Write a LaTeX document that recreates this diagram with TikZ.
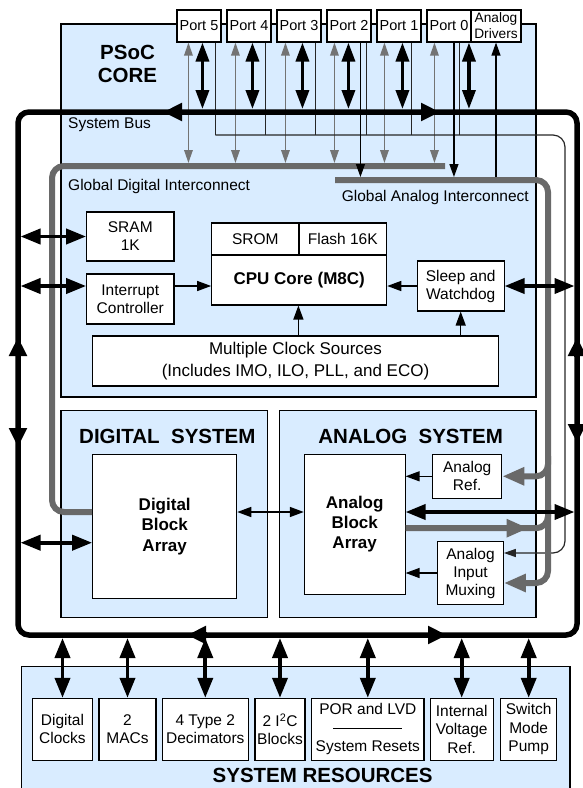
\documentclass[tikz,border=0pt]{standalone}
\usepackage{fontspec}
\setmainfont{Liberation Sans}
\usetikzlibrary{arrows.meta}

\definecolor{psocblue}{RGB}{217,236,255}
\definecolor{icgray}{RGB}{105,105,105}
\definecolor{pingray}{RGB}{115,115,115}
\newcommand{\setsz}[2]{\fontsize{#1}{#2}\selectfont}

\begin{document}
\begin{tikzpicture}[x=1pt,y=-1pt,
  region/.style={draw,line width=1.3pt,fill=psocblue,inner sep=0pt},
  box/.style={draw,line width=1.1pt,fill=white,inner sep=0pt,align=center,font=\setsz{15.5}{18}},
  port/.style={box,minimum width=44pt,minimum height=32pt,font=\setsz{14.5}{16}},
  res/.style={box,minimum height=61.7pt,font=\setsz{15.5}{18.5}},
  title/.style={font=\bfseries\setsz{20.5}{23},align=center,inner sep=0pt},
  lbl/.style={font=\setsz{15.5}{18},inner sep=0pt},
  bus/.style={line width=5.5pt,rounded corners=11pt},
  busmark/.style={line width=5.5pt,>={Triangle[length=19pt,width=17pt]},->},
  dbl/.style={line width=3.8pt,>={Triangle[length=20pt,width=15pt]},<->},
  pdbl/.style={line width=3.5pt,>={Triangle[length=19pt,width=13pt]},<->},
  arr/.style={line width=1.3pt,>={Triangle[length=14pt,width=10pt]},->},
  sarr/.style={line width=1.2pt,>={Triangle[length=13pt,width=9pt]},->},
  tdbl/.style={line width=1.5pt,>={Triangle[length=14pt,width=10pt]},<->},
  gdbl/.style={pingray,line width=1.6pt,>={Triangle[length=13pt,width=8.5pt]},<->},
  pin/.style={black!85,line width=1.2pt},
  ic/.style={icgray,line width=6pt,rounded corners=12pt},
  icarr/.style={ic,>={Triangle[length=22pt,width=17pt]},->}
]
\useasboundingbox (0,0) rectangle (582,788);

\node[region,minimum width=475pt,minimum height=373pt] (core) at (298.5,210.5) {};
\node[region,minimum width=206.7pt,minimum height=207pt] (dsys) at (164.3,514.2) {};
\node[region,minimum width=256.7pt,minimum height=207pt] (asys) at (407.7,514.2) {};
\node[region,minimum width=548.3pt,minimum height=140pt] (sres) at (295.8,736.7) {};

\node[title] (coret) at (127.5,64) {PSoC\\CORE};
\node[title] (dsyst) at (167.3,436.7) {DIGITAL\ \ SYSTEM};
\node[title] (asyst) at (410.7,436.7) {ANALOG\ \ SYSTEM};
\node[title] (srest) at (322.6,775) {SYSTEM RESOURCES};

\foreach \pn/\px/\tx in {p5/199/Port 5,p4/249/Port 4,p3/299/Port 3,p2/349/Port 2,p1/399/Port 1,p0/449/Port 0}
  \node[port] (\pn) at (\px,26) {\tx};
\node[port,minimum width=50pt,font=\setsz{13.7}{16}] (adrv) at (496,26) {Analog\\Drivers};

\node[box,minimum width=87.3pt,minimum height=49pt] (sram) at (130.3,236.5) {SRAM\\1K};
\node[box,minimum width=87.3pt,minimum height=50pt] (intr) at (130.3,299) {Interrupt\\Controller};
\node[box,minimum width=87.3pt,minimum height=32pt] (srom) at (255.3,239) {SROM};
\node[box,minimum width=87.7pt,minimum height=32pt] (flash) at (342.8,239) {Flash 16K};
\node[box,minimum width=175pt,minimum height=50pt,font=\bfseries\setsz{17}{20}] (cpu) at (299.2,280) {CPU Core (M8C)};
\node[box,minimum width=86.7pt,minimum height=50pt] (sleep) at (460.7,286) {Sleep and\\Watchdog};
\node[box,minimum width=405.6pt,minimum height=50pt,font=\setsz{17}{21.5}] (clk) at (295.5,361) {Multiple Clock Sources\\(Includes IMO, ILO, PLL, and ECO)};
\node[box,minimum width=144pt,minimum height=144pt,font=\bfseries\setsz{17}{20.3}] (dba) at (164.7,526.3) {Digital\\Block\\Array};
\node[box,minimum width=100.7pt,minimum height=139.7pt,font=\bfseries\setsz{17}{20.3}] (aba) at (354.7,524.2) {Analog\\Block\\Array};
\node[box,minimum width=69pt,minimum height=44pt] (aref) at (467.2,476.3) {Analog\\Ref.};
\node[box,minimum width=65.6pt,minimum height=62.6pt] (amux) at (470.5,573) {Analog\\Input\\Muxing};

\node[res,minimum width=59.6pt] (dclk) at (62.5,729.2) {Digital\\Clocks};
\node[res,minimum width=57pt] (macs) at (127.5,729.2) {2\\MACs};
\node[res,minimum width=86pt] (deci) at (205.3,729.2) {4 Type 2\\Decimators};
\node[res,minimum width=50pt] (i2c) at (280,729.2) {2 I\textsuperscript{2}C\\Blocks};
\node[res,minimum width=112.3pt] (por) at (367.8,729.2) {POR and LVD\\\rule[4.5pt]{68.7pt}{1pt}\\System Resets};
\node[res,minimum width=63.3pt] (ivr) at (461.7,729.2) {Internal\\Voltage\\Ref.};
\node[res,minimum width=56pt] (smp) at (528.7,729.2) {Switch\\Mode\\Pump};

\node[lbl,anchor=west] (sbus) at (68,125) {System Bus};
\node[lbl,anchor=west] (gdil) at (68,186) {Global Digital Interconnect};
\node[lbl,anchor=east] (gail) at (529,197) {Global Analog Interconnect};

\coordinate (bus-nw) at (18,112);
\coordinate (bus-se) at (577,635);
\coordinate (bl) at (20.5,0);
\coordinate (br) at (574.5,0);
\coordinate (bt) at (0,109);
\coordinate (bb) at (0,638);
\coordinate (gdi) at (0,163);
\coordinate (gai) at (548,177);
\coordinate (pr) at (565,135);
\coordinate (gref) at (548,456);
\coordinate (gaba) at (548,505);
\coordinate (rab) at (0,512);
\coordinate (rdb) at (0,542.7);

\foreach \pn/\gx/\bx/\tx in {p5/12/26/39,p4/9/26/39,p3/9/26/39,p2/8/22/40,p1/8/26/35,p0/8/42.5/33}{
  \coordinate (\pn-g) at ([xshift=\gx]\pn.south west);
  \coordinate (\pn-b) at ([xshift=\bx]\pn.south west);
  \coordinate (\pn-t) at ([xshift=\tx]\pn.south west);
  \draw[pin] (\pn-t) -- (\pn-t |- pr);
  \draw[gdbl] (\pn-g) -- (\pn-g |- gdi);
}
\draw[pin,rounded corners=12pt,>={Triangle[length=12pt,width=8pt]},->] (p5-t |- pr) -- (pr) |- ([yshift=20pt]amux.east);

\draw[ic] (445,166) -- (52,166) |- ([yshift=14.3pt]dba.west);
\draw[icarr] (335,180) -- (548,180) |- ([yshift=-10pt]amux.east);
\draw[icarr] (gref) |- (aref.east);
\draw[ic] ([yshift=-4pt]aba.east) -| (gaba);
\draw[icarr] ([yshift=-4pt]aba.east) -- ++(123,0);

\draw[bus] (bus-nw) rectangle (bus-se);
\foreach \xa/\ya/\xb/\yb in {182/112/163/112,421/112/440/112,18/356/18/337,18/428/18/447,577/357/577/337,577/424/577/443,207/635/187/635,428/635/447/635}
  \draw[busmark] (\xa,\ya) -- (\xb,\yb);

\coordinate (p2-a) at ([xshift=34]p2.south west);
\coordinate (p0-a) at ([xshift=27.5]p0.south west);
\draw[sarr] (p2-a) -- (p2-a |- gai);
\draw[sarr] (p0-a) -- (p0-a |- gai);
\draw[sarr] (adrv.south |- gai) -- (adrv.south);
\foreach \pn in {p5,p4,p3,p2,p1,p0}
  \draw[pdbl] (\pn-b) -- (\pn-b |- bt);

\draw[dbl] (bl |- sram.west) -- (sram.west);
\draw[dbl] (bl |- sleep.west) -- (intr.west |- sleep.west);
\draw[dbl] (sleep.east) -- (br |- sleep.east);
\draw[dbl] (bl |- rdb) -- (dba.west |- rdb);
\draw[dbl] (aba.east |- rab) -- (br |- rab);
\foreach \n in {dclk,macs,deci,i2c,por,ivr,smp}
  \draw[dbl] (\n.north |- bb) -- (\n.north);

\draw[arr] (intr.east |- sleep.west) -- (cpu.west |- sleep.west);
\draw[arr] (sleep.west) -- (cpu.east |- sleep.west);
\draw[arr] (clk.north -| flash.west) -- (cpu.south -| flash.west);
\draw[arr] (clk.north -| sleep.south) -- (sleep.south);
\draw[arr] (aref.west) -- (aba.east |- aref.west);
\draw[arr] (amux.west) -- (aba.east |- amux.west);
\draw[tdbl] (dba.east |- rab) -- (aba.west |- rab);
\end{tikzpicture}
\end{document}
